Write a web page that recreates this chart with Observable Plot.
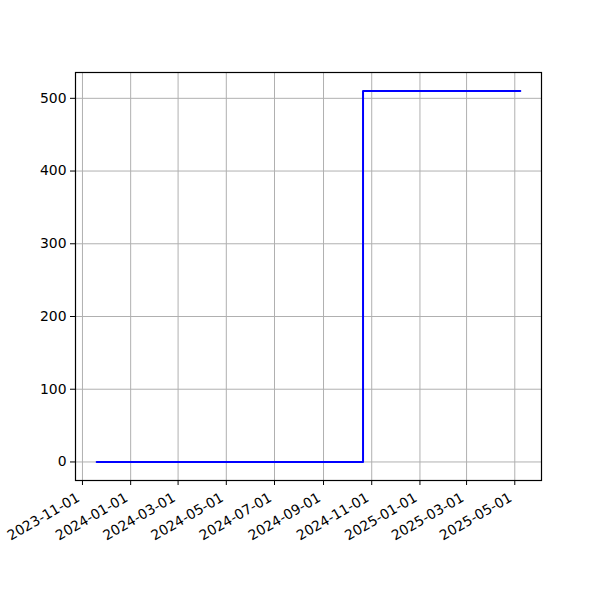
<!DOCTYPE html>
<html>
<head>
<meta charset="utf-8">
<script src="https://cdn.jsdelivr.net/npm/d3@7"></script>
<script src="https://cdn.jsdelivr.net/npm/@observablehq/plot@0.6"></script>
<style>
  html, body { margin: 0; padding: 0; background: #fff; }
  #chart svg { display: block; }
</style>
</head>
<body>
<div id="chart"></div>
<script>
const dates = ["2023-11-19", "2024-10-21", "2025-05-08"];
const values = [0, 510, 510];
const xTickLabels = ["2023-11-01", "2024-01-01", "2024-03-01", "2024-05-01", "2024-07-01",
  "2024-09-01", "2024-11-01", "2025-01-01", "2025-03-01", "2025-05-01"];
const yTicks = [0, 100, 200, 300, 400, 500];

const data = dates.map((d, i) => ({date: new Date(d + "T00:00:00Z"), value: values[i]}));
const xTicks = xTickLabels.map(d => new Date(d + "T00:00:00Z"));

const x0 = data[0].date, x1 = data[data.length - 1].date;
const span = x1 - x0;
const xDomain = [new Date(+x0 - span * 0.05), new Date(+x1 + span * 0.05)];
const yMax = d3.max(values), yMin = d3.min(values);
const yDomain = [yMin - (yMax - yMin) * 0.05, yMax + (yMax - yMin) * 0.05];

const fmt = d3.utcFormat("%Y-%m-%d");

const chart = Plot.plot({
  width: 600,
  height: 600,
  marginLeft: 75,
  marginRight: 59,
  marginTop: 72,
  marginBottom: 120,
  style: {fontFamily: "DejaVu Sans", fontSize: "13.9px", color: "#000", background: "#fff"},
  x: {type: "utc", domain: xDomain},
  y: {domain: yDomain},
  marks: [
    Plot.gridX(xTicks, {stroke: "#b0b0b0", strokeOpacity: 1, strokeWidth: 1}),
    Plot.gridY(yTicks, {stroke: "#b0b0b0", strokeOpacity: 1, strokeWidth: 1}),
    Plot.line(data, {x: "date", y: "value", curve: "step-after", stroke: "#0000ff", strokeWidth: 2}),
    Plot.frame({stroke: "#000", strokeWidth: 1.2}),
    Plot.axisY(yTicks, {tickSize: 5, tickPadding: 4, fontSize: 13.9, label: null, stroke: "#000"}),
    Plot.axisX(xTicks, {tickSize: 5, tickFormat: () => "", label: null, stroke: "#000"}),
    Plot.axisX(xTicks, {tickSize: 0, tickPadding: 10, tickRotate: -30, tickFormat: fmt, fontSize: 13.9, label: null, dx: -4, dy: 6})
  ]
});
document.getElementById("chart").appendChild(chart);
</script>
</body>
</html>
